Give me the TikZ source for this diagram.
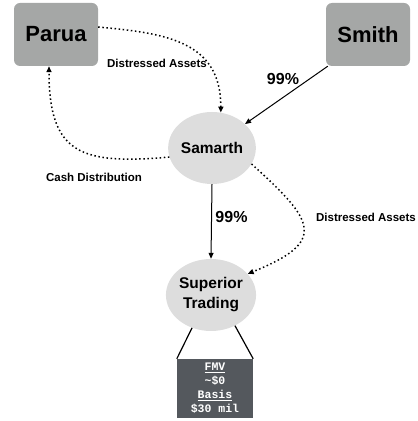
\documentclass[tikz,border=0pt]{standalone}
\usepackage{fontspec}
\setmainfont{Liberation Sans}
\setmonofont{Liberation Mono}
\usetikzlibrary{arrows.meta,shapes.geometric}
\definecolor{partygray}{HTML}{A5A7A6}
\definecolor{entitygray}{HTML}{DDDDDD}
\definecolor{valgray}{HTML}{54585D}
\newcommand{\bw}{84pt}

\begin{document}
\begin{tikzpicture}[x=1pt,y=1pt,
    party/.style={fill=partygray, rounded corners=6pt, minimum width=\bw, minimum height=63pt, inner sep=0pt, font=\fontsize{22}{26}\selectfont\bfseries},
    entity/.style={ellipse, fill=entitygray, minimum width=\bw, minimum height=72pt, inner sep=0pt, align=center, font=\fontsize{15.5}{20}\selectfont\bfseries},
    valbox/.style={fill=valgray, text=white, minimum width=76pt, minimum height=59pt, inner sep=0pt, align=center, font=\ttfamily\bfseries\fontsize{11.5}{14}\selectfont},
    own/.style={line width=1pt, -{Triangle[length=6pt,width=5pt]}},
    flow/.style={line width=1.5pt, dash pattern=on 1.5pt off 2.6pt, -{Triangle[length=6pt,width=5pt]}},
    pct/.style={font=\fontsize{16}{18}\selectfont\bfseries},
    lbl/.style={font=\fontsize{11.5}{13}\selectfont\bfseries}]
    \useasboundingbox (0,0) rectangle (418,421);

    % Owners
    \node[party] (parua) at (56,386.5) {Parua};
    \node[party] (smith) at (368,386.5) {Smith};

    % Entities
    \node[entity] (samarth) at (212,273) {Samarth};
    \node[entity] (superior) at (211,126) {Superior\\Trading};
    \node[valbox] (basis) at (215,32.5) {\underline{FMV}\\\textasciitilde\$0\\\underline{Basis}\\\$30 mil};

    % Ownership
    \draw[own] ([xshift=2pt]smith.south west) -- (samarth.36);
    \draw[own] (samarth.south) -- (superior.north);
    \node[pct] (pct-smith) at (283,342) {99\%};
    \node[pct] (pct-samarth) at (231.5,204) {99\%};

    % Transfers
    \draw[flow] (parua.10) to[out=-5,in=90,looseness=1.2] (samarth.76);
    \draw[flow] (samarth.192) to[out=185,in=-90,looseness=1.5] ([xshift=-7pt]parua.south);
    \draw[flow] (samarth.-22) to[out=-42,in=22,looseness=2] (superior.30);
    \node[lbl] (lbl-parua) at (157,358) {Distressed Assets};
    \node[lbl] (lbl-cash) at (94,244) {Cash Distribution};
    \node[lbl] (lbl-superior) at (366,204) {Distressed Assets};

    % Asset
    \draw[line width=1.2pt] (superior.240) -- (basis.north west);
    \draw[line width=1.2pt] (superior.308) -- (basis.north east);
\end{tikzpicture}
\end{document}
